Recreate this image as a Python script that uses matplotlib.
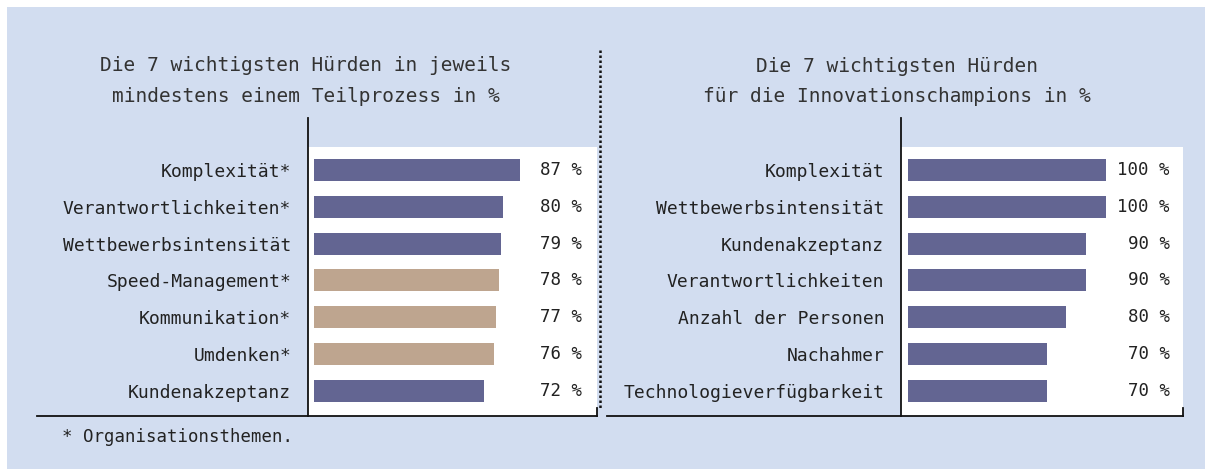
import matplotlib.pyplot as plt
from matplotlib.patches import Rectangle
from matplotlib.lines import Line2D

# left panel: hurdles in at least one sub-process
left_labels = ['Komplexität*', 'Verantwortlichkeiten*', 'Wettbewerbsintensität',
               'Speed-Management*', 'Kommunikation*', 'Umdenken*', 'Kundenakzeptanz']
left_values = [87, 80, 79, 78, 77, 76, 72]
left_orga = [False, False, False, True, True, True, False]

# right panel: hurdles for innovation champions
right_labels = ['Komplexität', 'Wettbewerbsintensität', 'Kundenakzeptanz',
                'Verantwortlichkeiten', 'Anzahl der Personen', 'Nachahmer',
                'Technologieverfügbarkeit']
right_values = [100, 100, 90, 90, 80, 70, 70]

BG = '#d2ddf0'
PURPLE = '#636592'
TAN = '#bea58f'
TXT = '#222222'

plt.rcParams['font.family'] = ['DejaVu Sans Mono', 'DejaVu Sans']

W, H = 1205, 469
fig = plt.figure(figsize=(W / 100, H / 100), dpi=100, facecolor='white')
fig.patches.append(Rectangle((7 / W, 0), 1, 1 - 7 / H, transform=fig.transFigure,
                             facecolor=BG, edgecolor='none', zorder=-10))


def px_axes(x0, x1, y0, y1):
    # pixel box (top-origin) -> axes
    return fig.add_axes([x0 / W, 1 - y1 / H, (x1 - x0) / W, (y1 - y0) / H])


def panel(ax, labels, values, colors, xlim, val_x, base_left):
    n = len(labels)
    ax.set_facecolor('none')
    ax.axhspan(-0.62, n - 0.32, color='white', zorder=0, lw=0)
    ax.barh(range(n), values, height=0.6, color=colors, zorder=2)
    for i, v in enumerate(values):
        ax.text(val_x, i, f'{v} %', ha='right', va='center', fontsize=12.5, color=TXT)
    ax.set_ylim(n - 0.32, -1.41)
    ax.set_xlim(*xlim)
    ax.set_yticks(range(n))
    ax.set_yticklabels(labels, fontsize=13, color=TXT)
    ax.tick_params(axis='y', length=0, pad=12)
    ax.set_xticks([])
    for s in ['top', 'right', 'bottom']:
        ax.spines[s].set_visible(False)
    ax.spines['left'].set_linewidth(1.3)
    ax.spines['left'].set_color('#111111')
    ax.plot([base_left, 1], [0, 0], transform=ax.transAxes, color='#111111',
            lw=1.3, clip_on=False)
    ax.plot([1, 1], [0, 8 / 298], transform=ax.transAxes, color='#111111',
            lw=1.3, clip_on=False)


axl = px_axes(308, 597, 118, 416)
panel(axl, left_labels, left_values, [TAN if o else PURPLE for o in left_orga],
      (-2.53, 119.6), 113.2, -(308 - 37) / 289)

axr = px_axes(901, 1183, 118, 416)
panel(axr, right_labels, right_values, [PURPLE] * len(right_values),
      (-3.5, 138.9), 132.3, -(901 - 607) / 282)

# titles
fig.text(306 / W, 1 - 65 / H, 'Die 7 wichtigsten Hürden in jeweils', ha='center',
         va='center', fontsize=14, color='#333333')
fig.text(306 / W, 1 - 97 / H, 'mindestens einem Teilprozess in %', ha='center',
         va='center', fontsize=14, color='#333333')
fig.text(897 / W, 1 - 67 / H, 'Die 7 wichtigsten Hürden', ha='center',
         va='center', fontsize=14, color='#333333')
fig.text(897 / W, 1 - 97 / H, 'für die Innovationschampions in %', ha='center',
         va='center', fontsize=14, color='#333333')

# dotted divider
fig.lines.append(Line2D([600 / W, 600 / W], [1 - 50 / H, 1 - 410 / H],
                        transform=fig.transFigure, color='#111111', lw=1.8,
                        linestyle=(0, (1, 1))))

fig.text(62 / W, 1 - 437 / H, '* Organisationsthemen.', ha='left', va='center',
         fontsize=12.5, color=TXT)

fig.savefig('out.png', dpi=100, facecolor=fig.get_facecolor())
